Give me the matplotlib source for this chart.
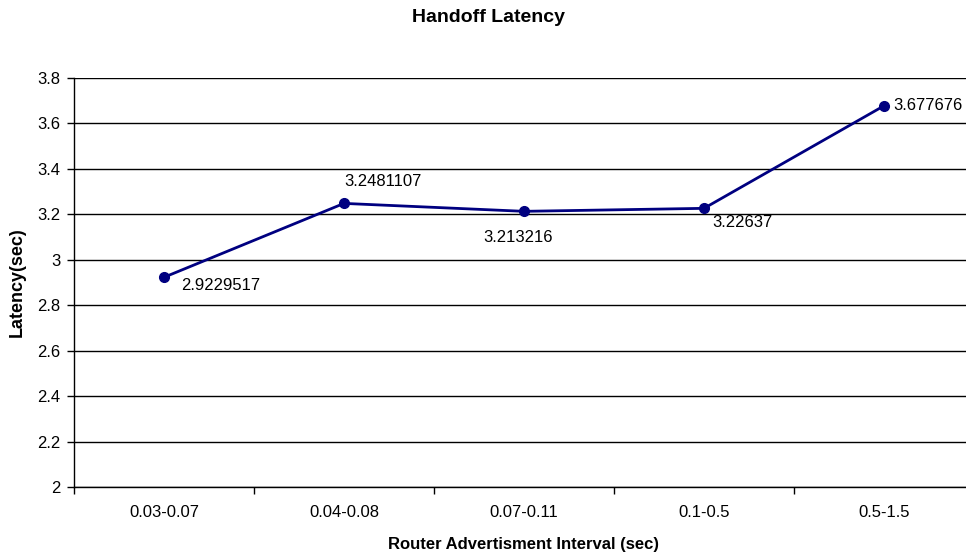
import matplotlib.pyplot as plt

plt.rcParams['font.family'] = ['Liberation Sans', 'DejaVu Sans']

intervals = ['0.03-0.07', '0.04-0.08', '0.07-0.11', '0.1-0.5', '0.5-1.5']
latency = [2.9229517, 3.2481107, 3.213216, 3.22637, 3.677676]
point_labels = ['2.9229517', '3.2481107', '3.213216', '3.22637', '3.677676']

fig = plt.figure(figsize=(9.66, 5.6), dpi=100)
ax = fig.add_axes([74 / 966, 1 - 487 / 560, 900 / 966, (487 - 78) / 560])

x = list(range(len(intervals)))
ax.plot(x, latency, color='#000080', lw=2, marker='o', ms=7, zorder=3, clip_on=False)

# label offsets (points) roughly where the original puts them
offsets = [(12, -6), (0, 16), (-4, -19), (6, -10), (7, 0)]
aligns = ['left', 'left', 'center', 'left', 'left']
for xi, yi, lab, off, ha in zip(x, latency, point_labels, offsets, aligns):
    ax.annotate(lab, (xi, yi), xytext=off, textcoords='offset points',
                ha=ha, va='center', fontsize=12)

ax.set_xlim(-0.5, len(intervals) - 0.5)
ax.set_ylim(2, 3.8)
ax.set_yticks([2 + 0.2 * i for i in range(10)])
ax.set_yticklabels(['2', '2.2', '2.4', '2.6', '2.8', '3', '3.2', '3.4', '3.6', '3.8'])
ax.set_xticks(x)
ax.set_xticklabels(intervals)
ax.set_xticks([i + 0.5 for i in range(-1, len(intervals))], minor=True)
ax.tick_params(axis='x', which='major', length=0, pad=13, labelsize=12)
ax.tick_params(axis='x', which='minor', length=5, width=1, direction='out')
ax.tick_params(axis='y', length=5, width=1, direction='out', labelsize=12, pad=5)

ax.grid(axis='y', color='black', lw=1)
ax.set_axisbelow(True)
for s in ['top', 'right']:
    ax.spines[s].set_visible(False)
ax.spines['left'].set_linewidth(1)
ax.spines['bottom'].set_linewidth(1)

ax.set_ylabel('Latency(sec)', fontsize=13, fontweight='bold', labelpad=8)
ax.set_xlabel('Router Advertisment Interval (sec)', fontsize=12, fontweight='bold', labelpad=12)
fig.suptitle('Handoff Latency', fontsize=14, fontweight='bold', x=489 / 966, y=1 - 17 / 560, va='center')

fig.savefig('out.png', dpi=100)
